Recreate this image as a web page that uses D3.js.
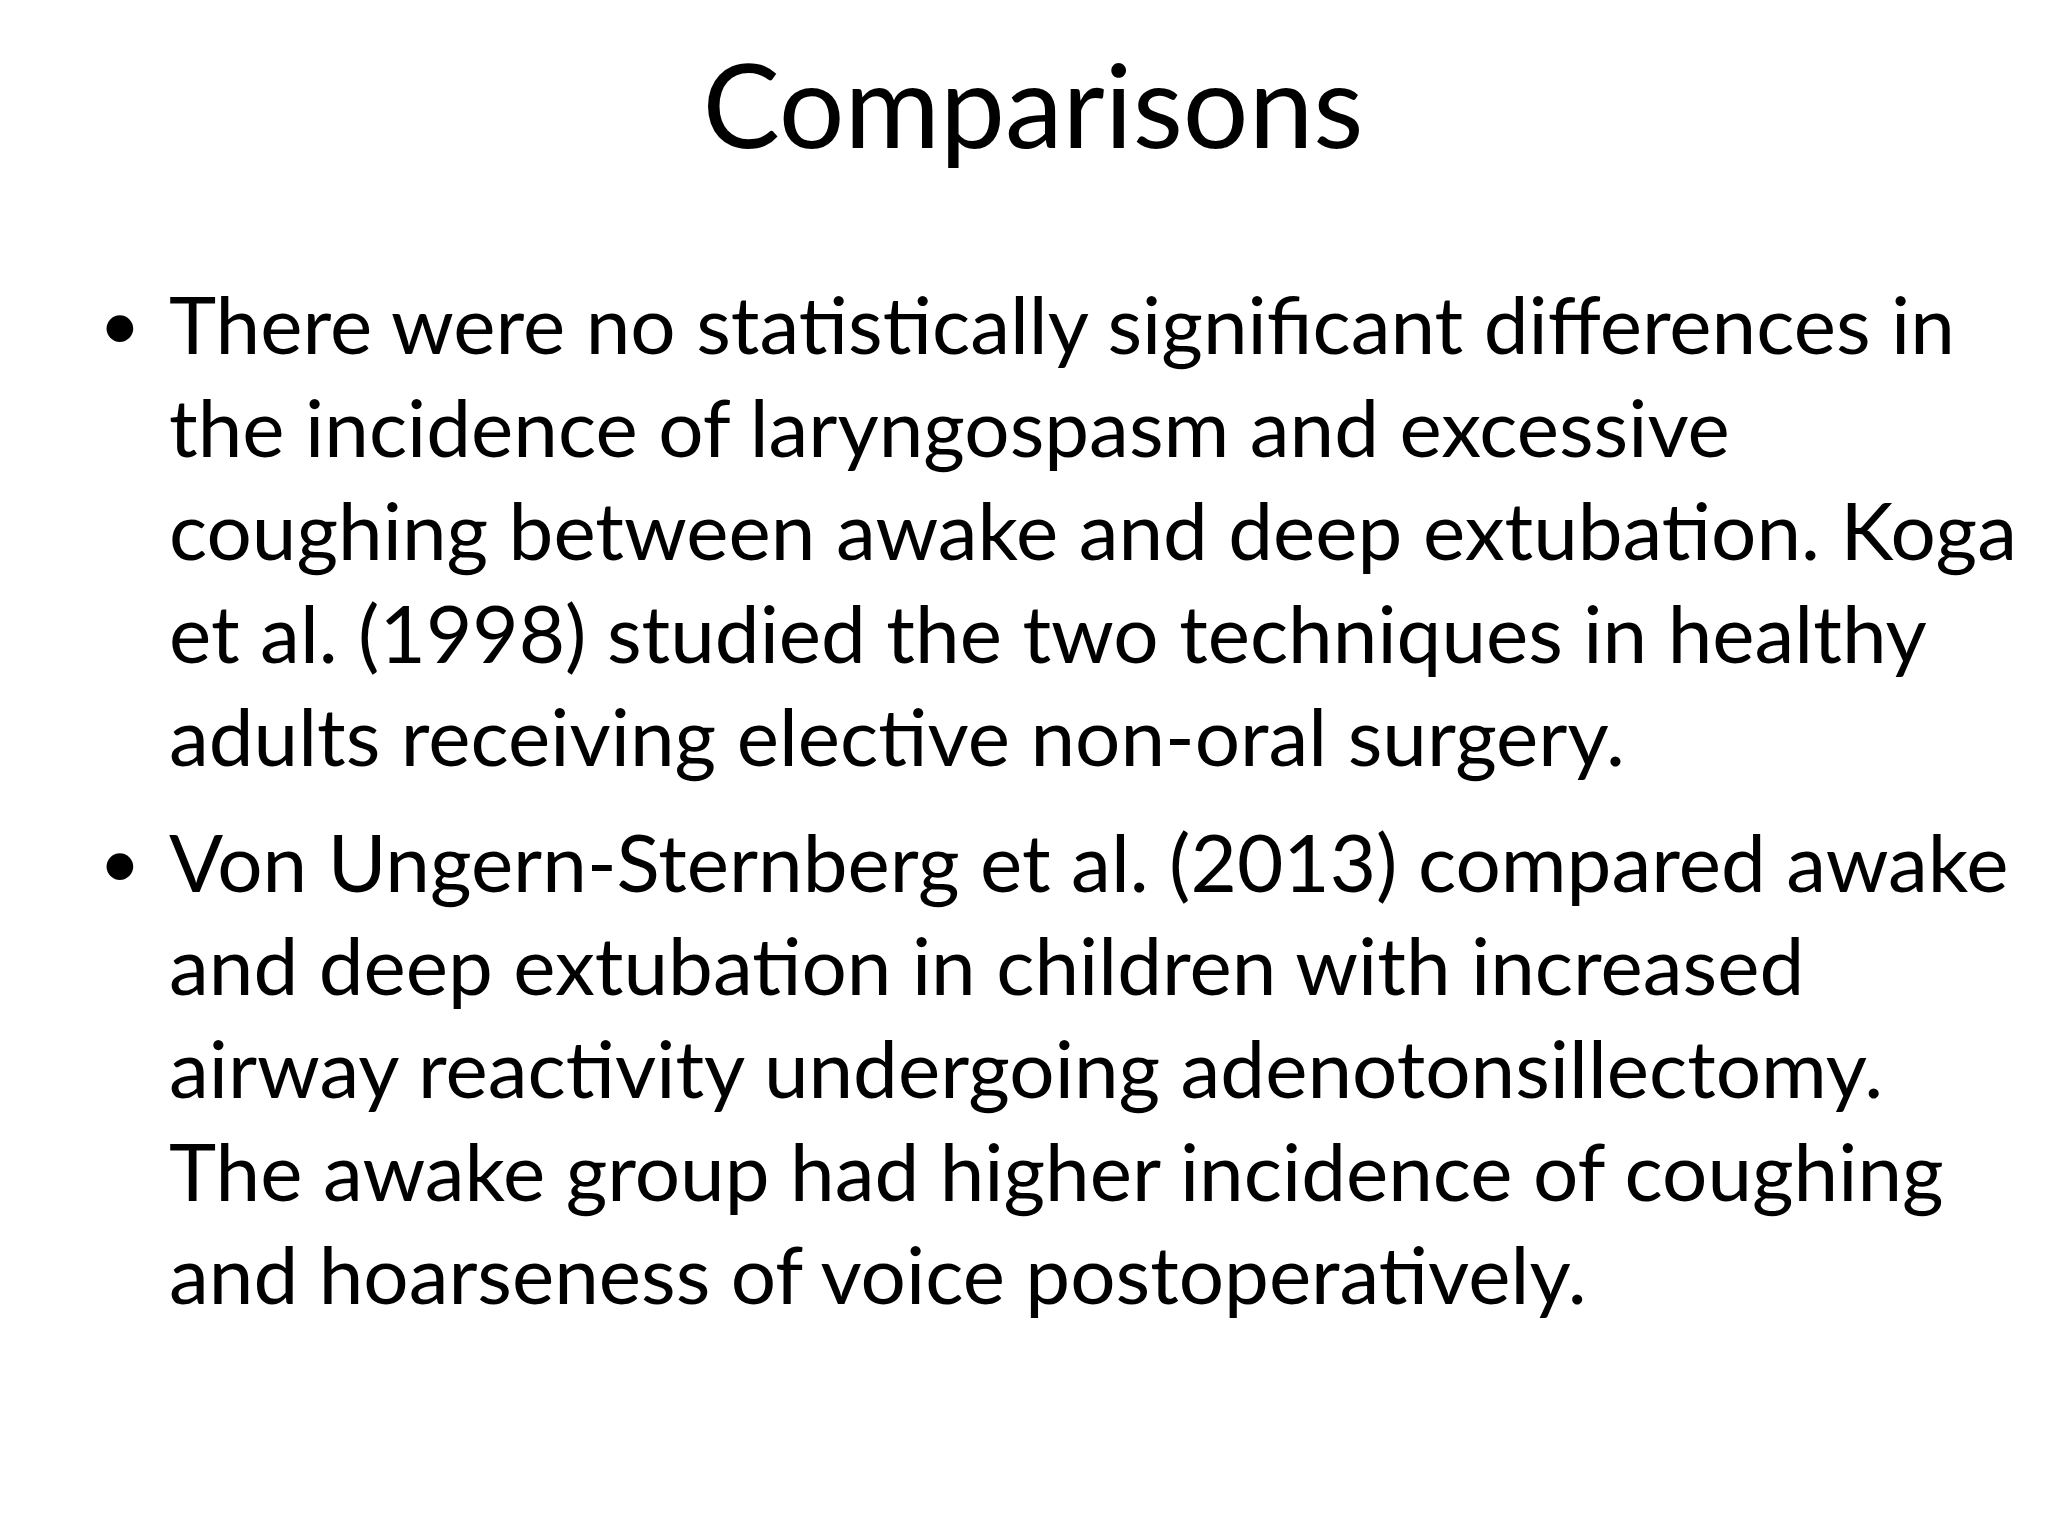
<!DOCTYPE html>
<html><head><meta charset="utf-8">
<script src="https://cdn.jsdelivr.net/npm/d3@7"></script>
<style>body{margin:0;background:#fff}</style>
</head><body>
<svg width="2048" height="1536"></svg>
<script>
const title = 'Comparisons';
const bullet1 = [
  'There were no statistically significant differences in',
  'the incidence of laryngospasm and excessive',
  'coughing between awake and deep extubation. Koga',
  'et al. (1998) studied the two techniques in healthy',
  'adults receiving elective non-oral surgery.'
];
const bullet2 = [
  'Von Ungern-Sternberg et al. (2013) compared awake',
  'and deep extubation in children with increased',
  'airway reactivity undergoing adenotonsillectomy.',
  'The awake group had higher incidence of coughing',
  'and hoarseness of voice postoperatively.'
];

let svg = d3.select('svg');
let font = 'Lato, "Open Sans", sans-serif';

svg.append('text')
  .attr('x', 1033).attr('y', 148)
  .attr('text-anchor', 'middle')
  .attr('font-family', font).attr('font-size', 116)
  .attr('fill', '#000')
  .text(title);

// fit body font so the widest reference line spans ~1848px
let probe = svg.append('text').attr('font-family', font).attr('font-size', 100)
  .text(bullet1[2]);
let bodySize = 100 * 1848 / probe.node().getComputedTextLength();
probe.remove();

let lineY = d3.scaleLinear().domain([0, 1]).range([0, 103]);

[[bullet1, 354], [bullet2, 892]].forEach(([lines, top]) => {
  svg.append('text')
    .attr('x', 99).attr('y', top - 4)
    .attr('font-family', font).attr('font-size', bodySize * 0.9)
    .text('•');
  svg.selectAll(null).data(lines).enter().append('text')
    .attr('x', 169)
    .attr('y', (d, i) => top + lineY(i))
    .attr('font-family', font).attr('font-size', bodySize)
    .attr('fill', '#000')
    .text(d => d);
});
</script>
</body></html>
